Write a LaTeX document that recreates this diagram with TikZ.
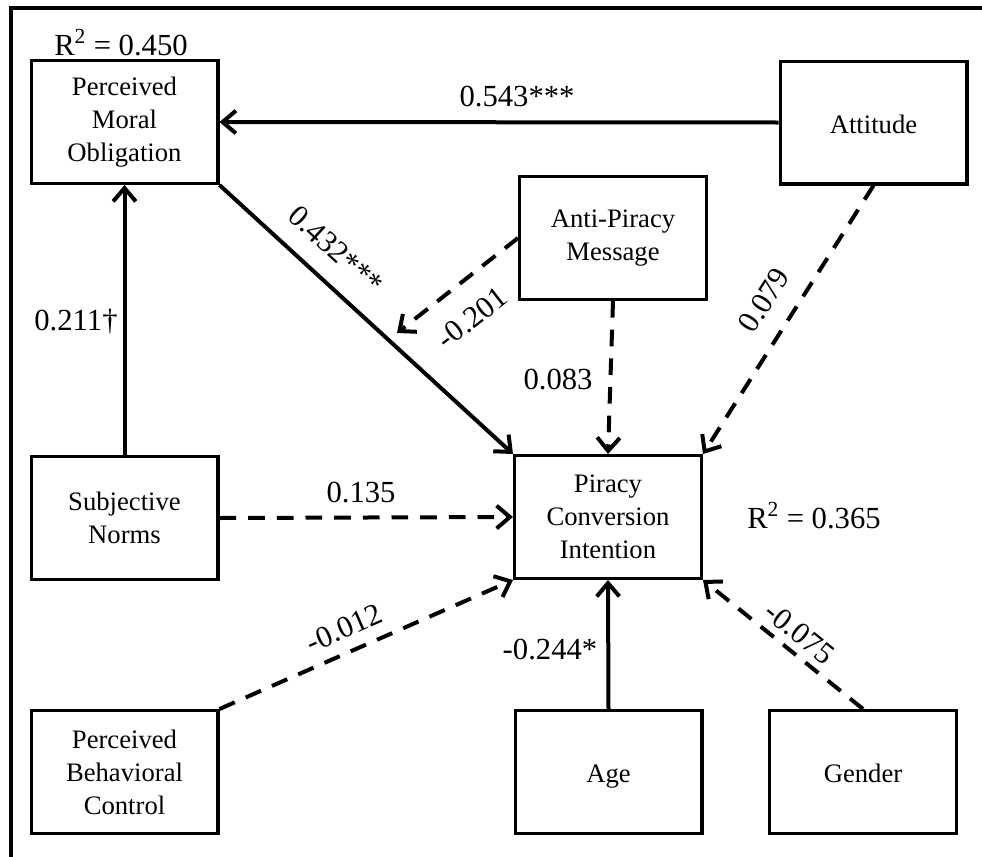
\documentclass[tikz,border=0pt]{standalone}
\usepackage{fontspec}
\setmainfont{Liberation Serif}
\usetikzlibrary{arrows.meta}
\begin{document}
\begin{tikzpicture}[x=0.75pt,y=-0.75pt,
  var/.style={draw, line width=2.5pt, minimum width=140pt, minimum height=92pt,
    align=center, inner sep=0pt, font=\fontsize{20}{24.75}\selectfont},
  single/.style={text height=20pt, text depth=4pt},
  lbl/.style={inner sep=0pt, font=\fontsize{23}{27}\selectfont},
  path/.style={line width=3pt, -{Straight Barb[length=10pt,width=17pt,line width=3pt]}},
  sig/.style={path},
  nsig/.style={path, dash pattern=on 12.5pt off 9pt}]
\useasboundingbox (0,0) rectangle (982,857);

% outer frame (top and left edges)
\draw[line width=3pt] (11,857) -- (11,8) -- (982,8);

% constructs
\node[var] (pmo) at (124.5,122) {Perceived\\Moral\\Obligation};
\node[var, single] (att) at (873.5,122.5) {Attitude};
\node[var] (ap)  at (613,238) {Anti-Piracy\\Message};
\node[var] (pci) at (608,517) {Piracy\\Conversion\\Intention};
\node[var] (sn)  at (124.5,518) {Subjective\\Norms};
\node[var] (pbc) at (124.5,772) {Perceived\\Behavioral\\Control};
\node[var, single] (age) at (608.5,772) {Age};
\node[var, single] (gen) at (863,772) {Gender};

% explained variance
\node[lbl] (r2pmo) at (121,43) {R\textsuperscript{2} = 0.450};
\node[lbl] (r2pci) at (814,516) {R\textsuperscript{2} = 0.365};

% paths
\coordinate (mod) at (397,333);
\draw[sig]  (att.west) -- (pmo.east);
\draw[sig]  (sn.north) -- (pmo.south);
\draw[sig]  (pmo.south east) -- (pci.north west);
\draw[nsig] (ap.west) -- (mod);
\draw[nsig] (ap.south) -- (pci.north);
\draw[nsig] (att.south) -- (pci.north east);
\draw[nsig] (sn.east) -- (pci.west);
\draw[nsig] (pbc.north east) -- (pci.south west);
\draw[sig]  (age.north) -- (pci.south);
\draw[nsig] (gen.north) -- (pci.south east);

% path coefficients
\node[lbl] (c1) at (517,97) {0.543***};
\node[lbl] (c2) at (76,322) {0.211†};
\node[lbl, rotate=-42.5] (c3) at (336,250) {0.432***};
\node[lbl, rotate=38] (c4) at (472,318) {-0.201};
\node[lbl] (c5) at (558,380) {0.083};
\node[lbl, rotate=57.6] (c6) at (764,300) {0.079};
\node[lbl] (c7) at (361,493) {0.135};
\node[lbl, rotate=23.8] (c8) at (344,628) {-0.012};
\node[lbl] (c9) at (550,650) {-0.244*};
\node[lbl, rotate=-39] (c10) at (800,633) {-0.075};
\end{tikzpicture}
\end{document}
